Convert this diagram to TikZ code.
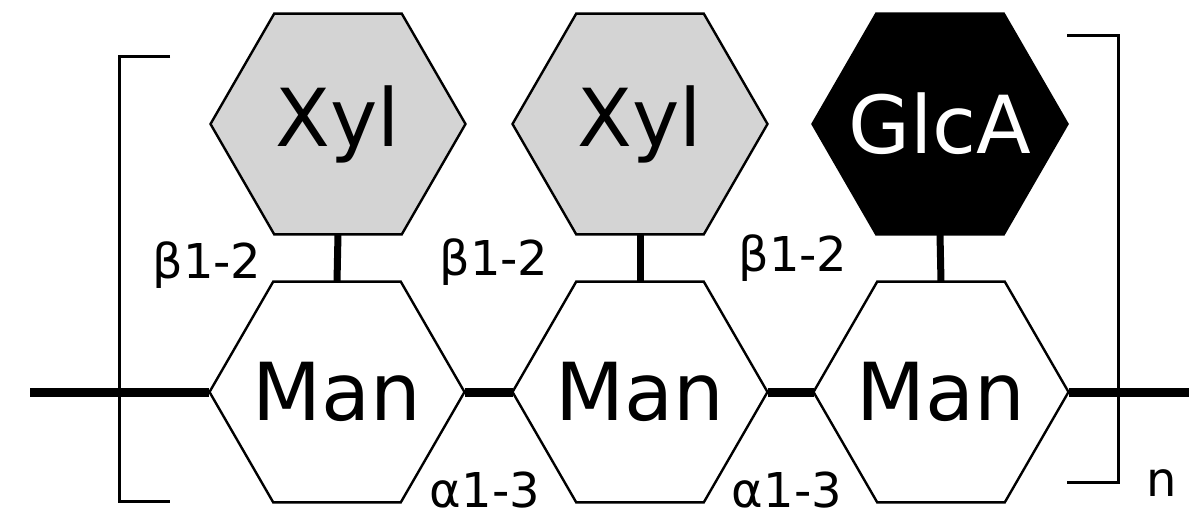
\documentclass[tikz,border=0pt]{standalone}
\usepackage{fontspec}
\setmainfont{DejaVu Sans}
\usetikzlibrary{shapes.geometric}
\tikzset{
  hexa/.style={draw=black, line width=2.4pt, regular polygon, regular polygon sides=6,
    minimum size=255pt, inner sep=0pt, outer sep=0pt},
  xyl/.style={hexa, fill=black!17},
  glca/.style={hexa, fill=black},
  man/.style={hexa, fill=white},
  bigtxt/.style={inner sep=0pt, font=\fontsize{80}{90}\selectfont},
  chainline/.style={line width=9pt},
  branch/.style={line width=7pt},
  brk/.style={line width=3pt},
  lbl/.style={anchor=base, inner sep=0pt, font=\fontsize{48}{56}\selectfont}
}
\begin{document}
\begin{tikzpicture}[x=1pt,y=-1pt]
\useasboundingbox (0,0) rectangle (1202,513);
% Man chain
\node[man] (m1) at (337,392) {};
\node[man] (m2) at (640,392) {};
\node[man] (m3) at (941,392) {};
\node[bigtxt] (tm1) at (m1) {Man};
\node[bigtxt] (tm2) at (m2) {Man};
\node[bigtxt] (tm3) at (m3) {Man};
% branches
\node[xyl] (x1) at (338,124) {};
\node[xyl] (x2) at (640,124) {};
\node[glca] (g3) at (940,124) {};
\node[bigtxt] (tx1) at (x1) {Xyl};
\node[bigtxt] (tx2) at (x2) {Xyl};
\node[bigtxt, text=white] (tg3) at (g3) {GlcA};
\coordinate (cl) at (30,392);
\coordinate (cr) at (1189,392);
% brackets
\draw[brk] (170,57) -- (119,57) -- (119,501) -- (170,501);
\draw[brk] (1067,36) -- (1118,36) -- (1118,482) -- (1067,482);
% connectors
\draw[chainline] (cl) -- (m1.west);
\draw[chainline] (m1.east) -- (m2.west);
\draw[chainline] (m2.east) -- (m3.west);
\draw[chainline] (m3.east) -- (cr);
\draw[branch] (x1.south) -- (m1.north);
\draw[branch] (x2.south) -- (m2.north);
\draw[branch] (g3.south) -- (m3.north);
% labels
\node[lbl] (b1) at (207,278) {β1-2};
\node[lbl] (b2) at (494,275) {β1-2};
\node[lbl] (b3) at (793,271) {β1-2};
\node[lbl] (a1) at (485,507) {α1-3};
\node[lbl] (a2) at (787,507) {α1-3};
\node[lbl] (nn) at (1162,496) {n};
\end{tikzpicture}
\end{document}
